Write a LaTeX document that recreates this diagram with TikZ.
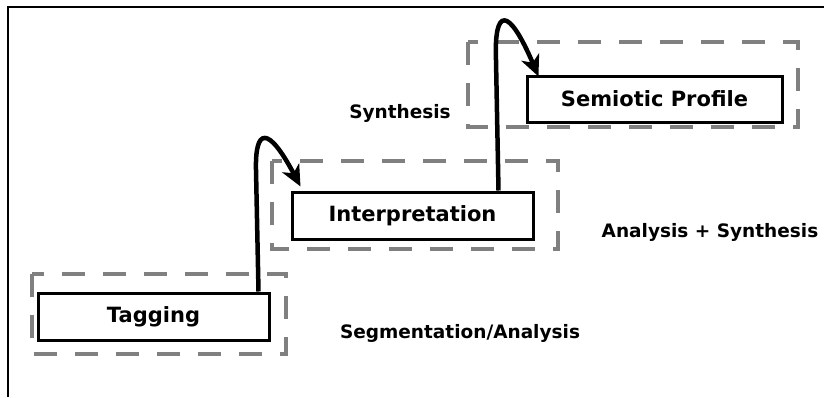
\documentclass[tikz,border=0pt]{standalone}
\usepackage{fontspec}
\setmainfont{DejaVu Sans}
\usetikzlibrary{arrows.meta}
\tikzset{
  stagebox/.style={draw=black, line width=3pt, fill=white, inner sep=0pt,
    font=\bfseries\fontsize{21}{24}\selectfont},
  phase/.style={draw=black!50, line width=4.5pt, dash pattern=on 23pt off 18pt},
  jump/.style={draw=black, line width=4.5pt, -{Stealth[length=21pt,width=19pt,inset=6pt]}},
  sidelabel/.style={font=\bfseries\fontsize{18.5}{21}\selectfont, inner sep=0pt},
  frameline/.style={draw=black, line width=2.5pt}
}
\begin{document}
\begin{tikzpicture}[x=1pt,y=-1pt]
\useasboundingbox (0,0) rectangle (824,397);
% frame
\draw[frameline] (8,397) -- (8,7) -- (824,7);
% phase boxes
\draw[phase] (32,274) rectangle (286,354);
\draw[phase] (272,161) rectangle (558,249);
\draw[phase] (468,42) rectangle (798,127);
% stage boxes
\node[stagebox, minimum width=231pt, minimum height=47pt] (tag) at (153.5,316.5) {Tagging};
\node[stagebox, minimum width=241pt, minimum height=47pt] (interp) at (412.5,215.5) {Interpretation};
\node[stagebox, minimum width=255pt, minimum height=46pt] (sem) at (654.5,99) {Semiotic Profile};
% connectors
\coordinate (a1s) at ([xshift=-12pt]tag.north east);
\coordinate (a1e) at ([xshift=10pt,yshift=4pt]interp.north west);
\coordinate (a2s) at ([xshift=-36pt]interp.north east);
\coordinate (a2e) at ([xshift=13pt,yshift=-2pt]sem.north west);
\draw[jump] (a1s) -- (256,170) .. controls (255,128) and (268,125) .. (a1e);
\draw[jump] (a2s) -- (496,60) .. controls (494,8) and (508,5) .. (a2e);
% labels
\node[sidelabel] (lsyn) at (400,113) {Synthesis};
\node[sidelabel] (lana) at (710,232) {Analysis + Synthesis};
\node[sidelabel] (lseg) at (460,333) {Segmentation/Analysis};
\end{tikzpicture}
\end{document}
